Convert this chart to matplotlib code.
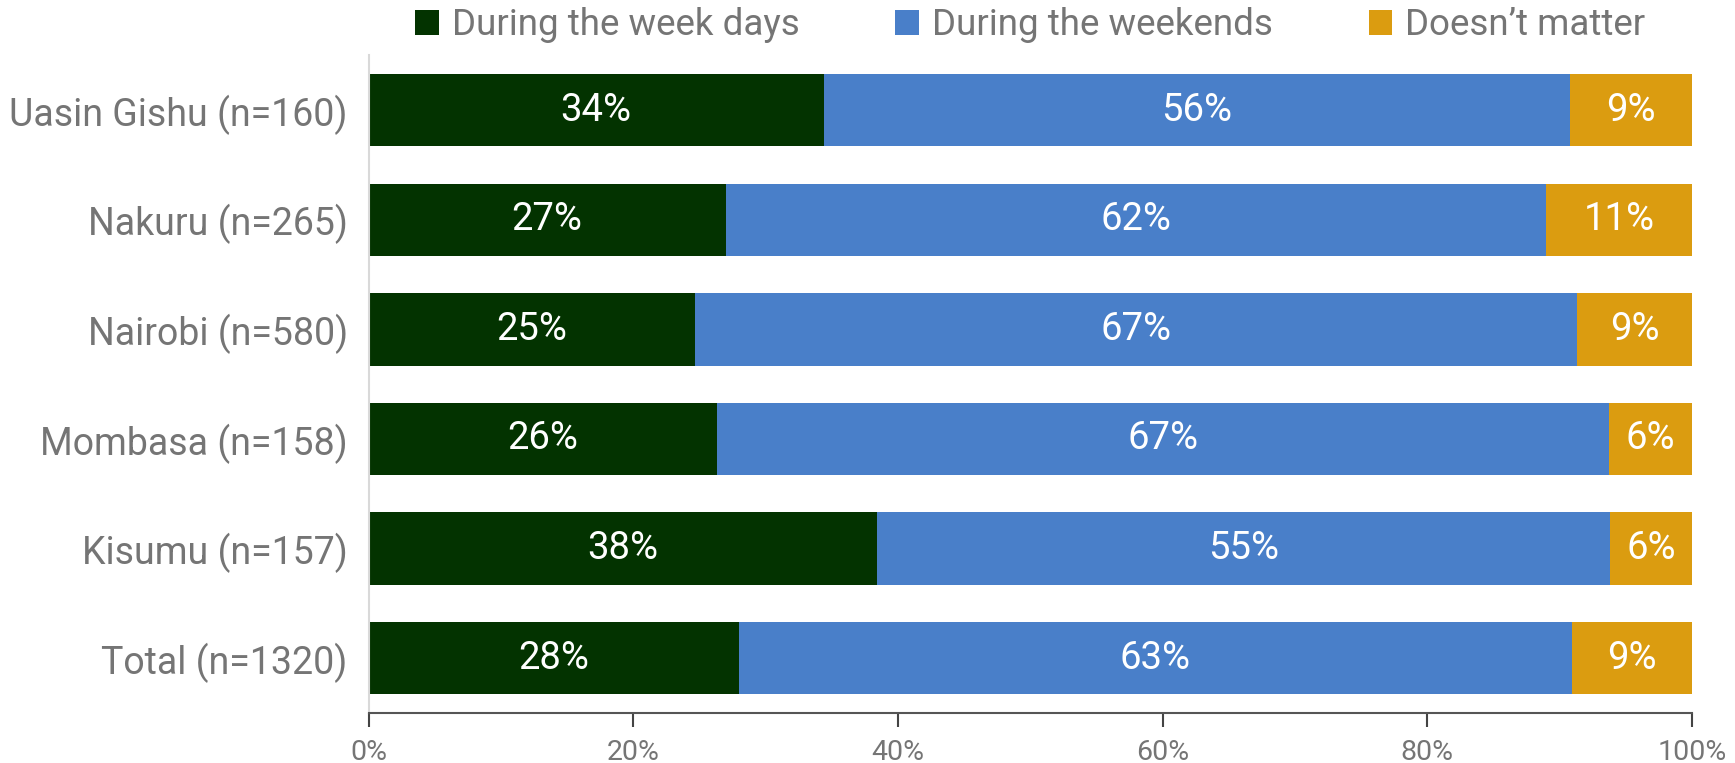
import matplotlib
matplotlib.use("Agg")
import matplotlib.pyplot as plt
import numpy as np

plt.rcParams['font.family'] = ['Roboto', 'DejaVu Sans']

categories = ["Uasin Gishu (n=160)", "Nakuru (n=265)", "Nairobi (n=580)",
              "Mombasa (n=158)", "Kisumu (n=157)", "Total (n=1320)"]
weekdays = [34.4, 27.0, 24.7, 26.3, 38.4, 28.0]
weekends = [56.4, 62.0, 66.6, 67.4, 55.4, 62.9]
doesnt_matter = [9.2, 11.0, 8.7, 6.3, 6.2, 9.1]
series_names = ["During the week days", "During the weekends", "Doesn\u2019t matter"]
colors = ["#033300", "#497FC9", "#DB9C10"]
xticks = [0, 20, 40, 60, 80, 100]

fig = plt.figure(figsize=(17.35, 7.63), dpi=100)
ax = fig.add_axes([0.2124, 0.0655, 0.7628, 0.862])

y = np.arange(len(categories))
left = np.zeros(len(categories))
for name, vals, c in zip(series_names, [weekdays, weekends, doesnt_matter], colors):
    vals = np.array(vals)
    ax.barh(y, vals, left=left, height=0.66, color=c, label=name)
    for yi, l, v in zip(y, left, vals):
        ax.text(l + v / 2, yi, f"{round(v):d}%", ha="center", va="center",
                color="white", fontsize=27.5)
    left += vals

ax.set_ylim(len(categories) - 0.5, -0.5)
ax.set_xlim(0, 100)
ax.set_yticks(y)
ax.set_yticklabels(categories, fontsize=27, color="#757575")
ax.set_xticks(xticks)
ax.set_xticklabels([f"{t}%" for t in xticks], fontsize=20.5, color="#757575")
ax.tick_params(axis="y", length=0, pad=15)
ax.tick_params(axis="x", length=10, width=1.5, color="#444444", pad=9)
for s in ["top", "right"]:
    ax.spines[s].set_visible(False)
ax.spines["left"].set_color("#d9d9d9")
ax.spines["left"].set_linewidth(1.5)
ax.spines["bottom"].set_color("#555555")
ax.spines["bottom"].set_linewidth(1.5)

leg = ax.legend(loc="lower center", bbox_to_anchor=(0.5, 0.99), ncol=3, frameon=False,
                fontsize=26.5, handlelength=0.65, handleheight=0.65, handletextpad=0.35,
                columnspacing=2.6, borderaxespad=0.1)
for t in leg.get_texts():
    t.set_color("#757575")

fig.savefig("out.png", dpi=100)
